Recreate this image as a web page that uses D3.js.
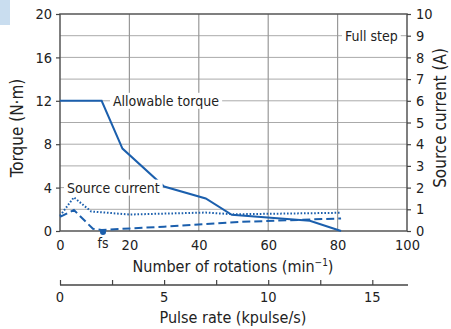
<!DOCTYPE html>
<html><head><meta charset="utf-8">
<script src="https://cdn.jsdelivr.net/npm/d3@7"></script>
<style>
html,body{margin:0;padding:0;background:#fff;}
svg text{font-family:"Liberation Sans Narrow","Arial Narrow","DejaVu Sans Condensed",sans-serif;fill:#222;}
</style></head>
<body><svg id="c" width="451" height="329"></svg>
<script>
// Data
const torqueRpm = [0, 12, 18, 30, 42, 49.5, 72, 81];
const torqueNm  = [12, 12, 7.6, 4.1, 3.0, 1.5, 0.95, 0];
const dottedRpm = [0, 4, 9, 20, 42, 50, 81];
const dottedA   = [0.7, 1.55, 0.9, 0.76, 0.85, 0.77, 0.84];
const dashedRpm = [0, 4, 9.5, 12, 30, 52, 81];
const dashedA   = [0.65, 0.97, 0.1, 0.05, 0.2, 0.42, 0.58];
const xTicks = [0, 20, 40, 60, 80, 100];
const yLeftTicks = [0, 4, 8, 12, 16, 20];
const yRightTicks = [0,1,2,3,4,5,6,7,8,9,10];
const pulseTicks = [0, 2.5, 5, 7.5, 10, 12.5, 15];
const pulseLabels = [0, 5, 10, 15];
const fsRpm = 12.4;

const svg = d3.select("#c");
const L=60,R=407,T=14,B=231;
const x = d3.scaleLinear([0,100],[L,R]);
const yL = d3.scaleLinear([0,20],[B,T]);
const yR = d3.scaleLinear([0,10],[B,T]);
const xP = d3.scaleLinear([0,100/6],[L,R]);
const blue = "#1b5fad";

svg.append("rect").attr("x",0).attr("y",0).attr("width",10).attr("height",25).attr("fill","#c9ddef");

// grid
const g = svg.append("g");
g.selectAll(".hg").data(yRightTicks.slice(1,-1)).join("line")
  .attr("x1",L).attr("x2",R).attr("y1",d=>yR(d)).attr("y2",d=>yR(d))
  .attr("stroke","#aaa").attr("stroke-width",1);
g.selectAll(".vg").data(xTicks.slice(1,-1)).join("line")
  .attr("y1",T).attr("y2",B).attr("x1",d=>x(d)).attr("x2",d=>x(d))
  .attr("stroke","#999").attr("stroke-width",1.2);
// frame
svg.append("rect").attr("x",L).attr("y",T).attr("width",R-L).attr("height",B-T)
  .attr("fill","none").attr("stroke","#555").attr("stroke-width",1.5);

// axes
const axL = svg.append("g").attr("transform",`translate(${L},0)`)
  .call(d3.axisLeft(yL).tickValues(yLeftTicks).tickSize(4).tickPadding(4));
const axR = svg.append("g").attr("transform",`translate(${R},0)`)
  .call(d3.axisRight(yR).tickValues(yRightTicks).tickSize(4).tickPadding(5));
const axB = svg.append("g").attr("transform",`translate(0,${B})`)
  .call(d3.axisBottom(x).tickValues(xTicks).tickSize(0).tickPadding(9));
const axP = svg.append("g").attr("transform",`translate(0,285)`)
  .call(d3.axisTop(xP).tickValues(pulseTicks).tickSize(5).tickFormat(()=>""));
svg.append("g").selectAll("text").data(pulseLabels).join("text")
  .attr("x",d=>xP(d)).attr("y",302).attr("text-anchor","middle").attr("font-size",14.5).text(d=>d);
[axL,axR,axB,axP].forEach(a=>{
  a.selectAll("path").attr("stroke","#444").attr("stroke-width",1.5);
  a.selectAll("line").attr("stroke","#444").attr("stroke-width",1.2);
  a.selectAll("text").attr("font-size",14.5).attr("fill","#222");
});
axB.select(".domain").remove();
axL.select(".domain").remove();
axR.select(".domain").remove();
axP.select(".domain").attr("d",`M${L},0H${R+1}`);

// titles
svg.append("text").attr("transform","translate(23,128) rotate(-90)").attr("text-anchor","middle")
  .attr("font-size",17).text("Torque (N·m)");
svg.append("text").attr("transform","translate(446,118) rotate(-90)").attr("text-anchor","middle")
  .attr("font-size",17).text("Source current (A)");
const t1 = svg.append("text").attr("x",233).attr("y",272).attr("text-anchor","middle").attr("font-size",16);
t1.append("tspan").text("Number of rotations (min");
t1.append("tspan").attr("dy",-6).attr("font-size",10).text("−1");
t1.append("tspan").attr("dy",6).text(")");
svg.append("text").attr("x",233).attr("y",323).attr("text-anchor","middle").attr("font-size",16).text("Pulse rate (kpulse/s)");

// lines
const lineL = d3.line().x(d=>x(d[0])).y(d=>yL(d[1]));
const lineR = d3.line().x(d=>x(d[0])).y(d=>yR(d[1]));
svg.append("path").attr("d",lineR(d3.zip(dottedRpm,dottedA))).attr("fill","none")
  .attr("stroke",blue).attr("stroke-width",2).attr("stroke-dasharray","1.6,1.8");
svg.append("path").attr("d",lineR(d3.zip(dashedRpm,dashedA))).attr("fill","none")
  .attr("stroke",blue).attr("stroke-width",2).attr("stroke-dasharray","8,4");
svg.append("path").attr("d",lineL(d3.zip(torqueRpm,torqueNm))).attr("fill","none")
  .attr("stroke",blue).attr("stroke-width",2);
svg.append("circle").attr("cx",x(fsRpm)).attr("cy",B+1).attr("r",3).attr("fill",blue);
svg.append("text").attr("x",x(fsRpm)).attr("y",248).attr("text-anchor","middle").attr("font-size",14).text("fs");

// labels with white background
function label(tx,ty,txt){
  const gg = svg.append("g");
  const r = gg.append("rect").attr("fill","#fff");
  const t = gg.append("text").attr("x",tx).attr("y",ty).attr("font-size",14).attr("dominant-baseline","central").text(txt);
  const bb = t.node().getBBox();
  r.attr("x",bb.x-3).attr("y",bb.y).attr("width",bb.width+6).attr("height",bb.height);
}
label(113, yL(12), "Allowable torque");
label(67, yL(4), "Source current");
label(345, yR(9), "Full step");
</script></body></html>
